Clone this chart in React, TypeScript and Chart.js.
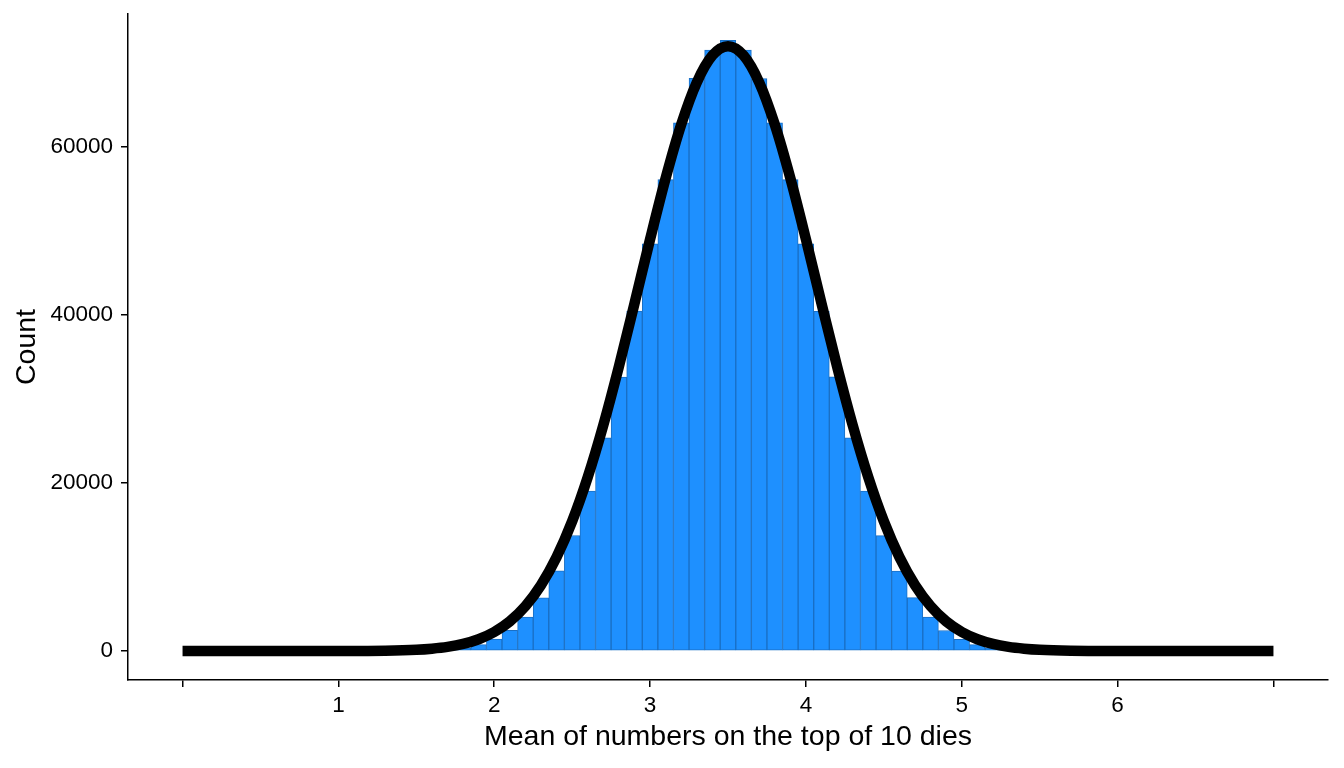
import React, { useEffect, useRef } from 'react';
import Chart from 'chart.js/auto';

// histogram bins: mean of 10 dice
const binMeans = [
  1.0, 1.1, 1.2, 1.3, 1.4, 1.5, 1.6, 1.7, 1.8, 1.9,
  2.0, 2.1, 2.2, 2.3, 2.4, 2.5, 2.6, 2.7, 2.8, 2.9,
  3.0, 3.1, 3.2, 3.3, 3.4, 3.5, 3.6, 3.7, 3.8, 3.9,
  4.0, 4.1, 4.2, 4.3, 4.4, 4.5, 4.6, 4.7, 4.8, 4.9,
  5.0, 5.1, 5.2, 5.3, 5.4, 5.5, 5.6, 5.7, 5.8, 5.9, 6.0,
];
const binCounts = [
  0, 0, 0, 5, 12, 33, 83, 190, 390, 770,
  1410, 2450, 4030, 6340, 9540, 13750, 19040, 25390, 32620, 40460,
  48460, 56120, 62870, 68160, 71530, 72690, 71540, 68150, 62880, 56110,
  48470, 40450, 32630, 25380, 19050, 13740, 9530, 6350, 4040, 2440,
  1400, 770, 390, 190, 80, 30, 12, 4, 1, 0, 0,
];

// overlaid normal curve
const curveX = [
  0, 0.5, 1.0, 1.3, 1.5, 1.6, 1.7, 1.8, 1.9,
  2.0, 2.1, 2.2, 2.3, 2.4, 2.5, 2.6, 2.7, 2.8, 2.9,
  3.0, 3.1, 3.2, 3.3, 3.4, 3.5, 3.6, 3.7, 3.8, 3.9,
  4.0, 4.1, 4.2, 4.3, 4.4, 4.5, 4.6, 4.7, 4.8, 4.9,
  5.0, 5.1, 5.2, 5.3, 5.4, 5.5, 5.7, 6.0, 6.5, 7.0,
];
const curveY = [
  0, 0, 5, 40, 150, 280, 490, 840, 1400,
  2260, 3530, 5340, 7850, 11180, 15450, 20700, 26890, 33870, 41380,
  49010, 56290, 62690, 67700, 70900, 72000, 70900, 67700, 62690, 56290,
  49010, 41380, 33870, 26890, 20700, 15450, 11180, 7850, 5340, 3530,
  2260, 1400, 840, 490, 280, 150, 40, 5, 0, 0,
];

const xTickValues = [0, 1, 2, 3, 4, 5, 6, 7];
const xTickLabels = ['', '1', '2', '3', '4', '5', '6', ''];
const yTickValues = [0, 20000, 40000, 60000];

const FAMILY = '"Liberation Sans", Arial, sans-serif';

const App = () => {
  const canvasRef = useRef<HTMLCanvasElement>(null);

  useEffect(() => {
    const canvas = canvasRef.current;
    let chart: Chart | null = null;

    if (canvas) {
      chart = new Chart(canvas, {
        type: 'bar',
        data: {
          datasets: [
            {
              type: 'line',
              data: curveX.map((x, i) => ({ x, y: curveY[i] })),
              borderColor: '#000000',
              borderWidth: 10.5,
              borderCapStyle: 'butt',
              pointRadius: 0,
              cubicInterpolationMode: 'monotone',
              order: 0,
            },
            {
              type: 'bar',
              data: binMeans.map((x, i) => ({ x, y: binCounts[i] })),
              backgroundColor: '#1E90FF',
              borderColor: '#1A6FC4',
              borderWidth: 1,
              borderSkipped: false,
              barPercentage: 1,
              categoryPercentage: 1,
              order: 1,
            },
          ],
        } as any,
        options: {
          animation: false,
          responsive: true,
          maintainAspectRatio: false,
          layout: { padding: { top: 14, right: 16, left: 0, bottom: 0 } },
          plugins: {
            legend: { display: false },
            tooltip: { enabled: false },
          },
          scales: {
            x: {
              type: 'linear',
              min: -0.35,
              max: 7.35,
              offset: false,
              afterBuildTicks: (scale: any) => {
                scale.ticks = xTickValues.map((v) => ({ value: v }));
              },
              afterFit: (scale: any) => {
                scale.height = 88;
                scale.paddingLeft = 0;
                scale.paddingRight = 0;
              },
              ticks: {
                callback: (_v: any, i: number) => xTickLabels[i],
                font: { family: FAMILY, size: 22.5 },
                color: '#000000',
                padding: 5,
                maxRotation: 0,
                autoSkip: false,
              },
              grid: {
                offset: false,
                drawOnChartArea: false,
                drawTicks: true,
                tickLength: 7,
                color: '#000000',
                lineWidth: 1.5,
              },
              border: { display: true, color: '#000000', width: 1.5 },
              title: {
                display: true,
                text: 'Mean of numbers on the top of 10 dies',
                font: { family: FAMILY, size: 28.5 },
                color: '#000000',
                padding: { top: 0, bottom: 14 },
              },
            },
            y: {
              type: 'linear',
              min: -3450,
              max: 75830,
              afterBuildTicks: (scale: any) => {
                scale.ticks = yTickValues.map((v) => ({ value: v }));
              },
              afterFit: (scale: any) => {
                scale.width = 128;
                scale.paddingTop = 0;
                scale.paddingBottom = 0;
              },
              ticks: {
                callback: (v: any) => String(v),
                font: { family: FAMILY, size: 22.5 },
                color: '#000000',
                padding: 8,
              },
              grid: {
                drawOnChartArea: false,
                drawTicks: true,
                tickLength: 7,
                color: '#000000',
                lineWidth: 1.5,
              },
              border: { display: true, color: '#000000', width: 1.5 },
              title: {
                display: true,
                text: 'Count',
                font: { family: FAMILY, size: 28.5 },
                color: '#000000',
                padding: { top: 10, bottom: 0 },
              },
            },
          },
        } as any,
      });
    }

    return () => {
      if (chart) {
        chart.destroy();
      }
    };
  }, []);

  return (
    <div
      style={{
        position: 'fixed',
        left: 0,
        top: 0,
        width: 1344,
        height: 768,
        background: '#ffffff',
      }}
    >
      <canvas ref={canvasRef}></canvas>
    </div>
  );
};

export default App;
